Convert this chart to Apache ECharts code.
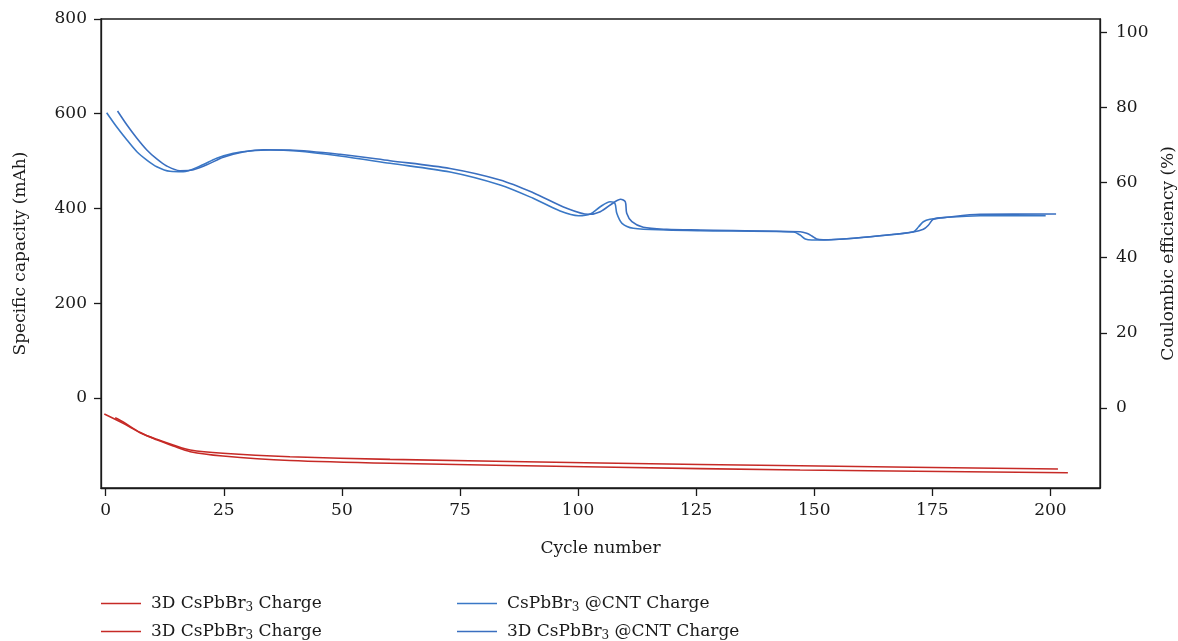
<!DOCTYPE html>
<html>
<head>
<meta charset="utf-8">
<script src="https://cdn.jsdelivr.net/npm/echarts@6/dist/echarts.min.js"></script>
<style>
html,body{margin:0;padding:0;background:#fff;}
#chart{width:1178px;height:641px;}
</style>
</head>
<body>
<div id="chart"></div>
<script>
// ---- data ----
const cycleTicks = [0, 25, 50, 75, 100, 125, 150, 175, 200];
const capacityTicks = [0, 200, 400, 600, 800];
const efficiencyTicks = [0, 20, 40, 60, 80, 100];

const legendLabels = [
  '3D CsPbBr3 Charge',
  '3D CsPbBr3 Charge',
  'CsPbBr3 @CNT Charge',
  '3D CsPbBr3 @CNT Charge'
];

// [cycle, capacity]
const red1 = [[-0.3,-33.8],[3.7,-53.5],[7.3,-73.3],[10.8,-87.3],[14.3,-99.3],[17.9,-109.8],[24.8,-116.8],[39.0,-124],[60.2,-129.5],[104.7,-137.3],[147,-143],[201.6,-150]];
const red2 = [[2.0,-41.7],[3.7,-50.7],[7.3,-72.9],[10.8,-88.3],[14.3,-101.4],[17.9,-113.4],[24.8,-122.5],[39.0,-132],[60.2,-137.9],[104.7,-145.7],[147,-152],[203.7,-157.8]];
const blue1 = [[0.2,602.2],[2.3,572.6],[4.5,544.6],[6.6,519.9],[8.7,502.3],[10.8,488.2],[13.6,478.5],[16.4,477.6],[20.0,489.7],[23.5,505.9],[27.0,516.5],[30.6,521.3],[34.8,523.5],[40.4,521.3],[49.6,510.8],[60.2,495.4],[72.9,477],[83.5,449.6],[90.5,421.5],[96.2,394.7],[100.1,384.8],[102.6,388.4],[104.7,403.8],[106.8,414.3],[107.8,410.9],[108.2,389.8],[109.3,368.7],[111.7,358.2],[118.8,354.6],[125.9,353.1],[145.6,350.4],[147.0,344],[148.1,335.6],[149.5,333.5],[151.2,333.5],[156.9,336.2],[163.9,342.5],[171.0,351],[172.1,361.5],[173.1,372.1],[174.5,377.2],[178.1,381.4],[185.1,384.8],[199.0,384.8]];
const blue2 = [[2.5,605.8],[4.5,576.2],[6.6,548.2],[8.7,523.5],[10.8,504.5],[12.9,489.7],[15.7,479.8],[17.9,480.6],[21.4,492.4],[24.9,508.1],[29.1,519.2],[33.4,524.1],[39.0,523.5],[49.6,514.4],[60.2,500.9],[72.9,484.4],[83.5,460.1],[90.5,433.3],[97.6,400.4],[102.2,387.7],[104.7,393.2],[107.5,412.2],[109.0,419.4],[110.0,414.3],[110.3,389.8],[111.4,372.1],[113.8,360.3],[118.8,356],[125.9,354.6],[147.0,351],[148.4,347.6],[149.5,341.9],[150.5,335.6],[151.9,334.1],[156.9,336.2],[163.9,342.5],[171.0,350.4],[173.1,356],[174.2,365.1],[175.2,377.2],[178.1,381.4],[185.1,387.7],[201.2,388.4]];

const seriesData = [red1, red2, blue1, blue2];
const seriesColors = ['#c62a26', '#c62a26', '#3a78c6', '#3a6fc0'];

const FONT = 'DejaVu Serif';
const INK = '#1a1a1a';

function richLabel(s) {
  return s.replace('PbBr3', 'PbBr{sub|3}');
}

const chart = echarts.init(document.getElementById('chart'), null, {renderer: 'canvas'});

const series = seriesData.map((d, i) => ({
  name: 's' + i,
  type: 'line',
  data: d,
  yAxisIndex: 0,
  showSymbol: false,
  symbol: 'none',
  smooth: 0.3,
  lineStyle: {width: 1.6, color: seriesColors[i]},
  itemStyle: {color: seriesColors[i]},
  animation: false
}));

const richText = {
  sub: {fontFamily: FONT, fontSize: 12, color: INK, padding: [9, 0, 0, 0]}
};

// one legend component per entry: [series index, left, top]
const legendSlots = [[0, 96, 590], [1, 96, 618], [2, 452, 590], [3, 452, 618]];

function makeLegend(slot) {
  const i = slot[0];
  return {
    show: true,
    orient: 'horizontal',
    left: slot[1],
    top: slot[2],
    itemWidth: 40,
    itemHeight: 14,
    icon: 'path://M0,6 L40,6 L40,7.6 L0,7.6 Z',
    data: [{name: 's' + i, itemStyle: {color: seriesColors[i]}}],
    formatter: name => richLabel(legendLabels[parseInt(name.slice(1))]),
    textStyle: {fontFamily: FONT, fontSize: 17, color: INK, padding: [0, 0, 0, 5], rich: richText}
  };
}

const option = {
  animation: false,
  backgroundColor: '#fff',
  grid: {left: 101, right: 78, top: 19, bottom: 153, outerBoundsMode: 'none', containLabel: false,
         show: true, borderColor: INK, borderWidth: 1.3, backgroundColor: 'transparent'},
  legend: legendSlots.map(makeLegend),
  xAxis: {
    type: 'value',
    min: -1,
    max: 210.5,
    name: 'Cycle number',
    nameLocation: 'middle',
    nameGap: 52,
    nameTextStyle: {fontFamily: FONT, fontSize: 17, color: INK},
    axisLine: {show: true, onZero: false, lineStyle: {color: INK, width: 1.3}},
    axisTick: {show: true, length: 8, customValues: cycleTicks, lineStyle: {color: INK, width: 1.3}},
    axisLabel: {fontFamily: FONT, fontSize: 17, color: INK, margin: 14, customValues: cycleTicks},
    splitLine: {show: false}
  },
  yAxis: [{
    type: 'value',
    position: 'left',
    min: -190,
    max: 800,
    name: 'Specific capacity (mAh)',
    nameLocation: 'middle',
    nameRotate: 90,
    nameGap: 72,
    nameTextStyle: {fontFamily: FONT, fontSize: 17, color: INK},
    axisLine: {show: true, onZero: false, lineStyle: {color: INK, width: 1.3}},
    axisTick: {show: true, length: 7, customValues: capacityTicks, lineStyle: {color: INK, width: 1.3}},
    axisLabel: {fontFamily: FONT, fontSize: 17, color: INK, margin: 14, customValues: capacityTicks},
    splitLine: {show: false}
  }, {
    type: 'value',
    position: 'right',
    min: -21.3,
    max: 103.5,
    name: 'Coulombic efficiency (%)',
    nameLocation: 'middle',
    nameRotate: 90,
    nameGap: 60,
    nameTextStyle: {fontFamily: FONT, fontSize: 17, color: INK},
    axisLine: {show: true, onZero: false, lineStyle: {color: INK, width: 1.3}},
    axisTick: {show: true, length: 7, customValues: efficiencyTicks, lineStyle: {color: INK, width: 1.3}},
    axisLabel: {fontFamily: FONT, fontSize: 17, color: INK, margin: 16, customValues: efficiencyTicks},
    splitLine: {show: false}
  }],
  series: series
};

chart.setOption(option);
</script>
</body>
</html>
